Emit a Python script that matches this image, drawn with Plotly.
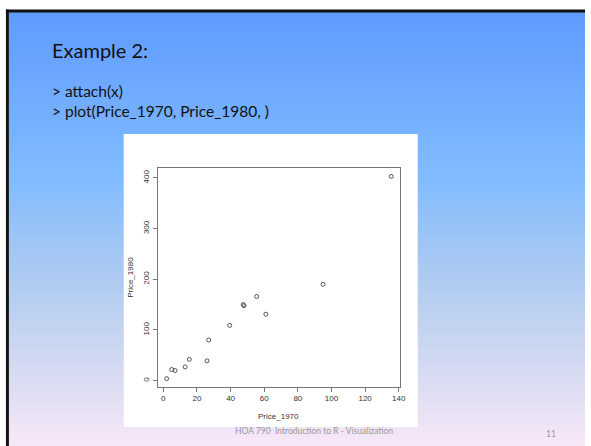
import plotly.graph_objects as go

W, H = 591, 446

# Data
price_1970 = [2, 5, 7, 13, 15.5, 26, 27, 39.5, 47.5, 48, 55.5, 61, 95, 135.5]
price_1980 = [4, 22, 20, 27, 42, 39, 80, 109, 150, 148, 166, 131, 190, 403]
x_ticks = [0, 20, 40, 60, 80, 100, 120, 140]
y_ticks = [0, 100, 200, 300, 400]

title_text = "Example 2:"
code_lines = ["> attach(x)", "> plot(Price_1970, Price_1980, )"]
footer_text = "HOA 790  Introduction to R - Visualization"
page_num = "11"


def px(x):
    return x / W


def py(y):
    return 1 - y / H


# gradient stops (pixel y, rgb)
stops = [
    (12, (94, 155, 255)),
    (180, (130, 188, 255)),
    (260, (166, 200, 242)),
    (330, (196, 212, 240)),
    (390, (222, 222, 243)),
    (446, (249, 231, 248)),
]


def color_at(y):
    for (y0, c0), (y1, c1) in zip(stops[:-1], stops[1:]):
        if y0 <= y <= y1:
            t = (y - y0) / (y1 - y0)
            return "rgb(%d,%d,%d)" % tuple(round(a + (b - a) * t) for a, b in zip(c0, c1))
    return "rgb(%d,%d,%d)" % stops[-1][1]


shapes = []
y = 12
step = 2
while y < H:
    shapes.append(dict(type="rect", xref="paper", yref="paper",
                       x0=px(9), x1=1, y0=py(y + step), y1=py(y),
                       fillcolor=color_at(y + step / 2), line=dict(width=0),
                       layer="below"))
    y += step

# slide border
shapes.append(dict(type="rect", xref="paper", yref="paper", x0=px(6), x1=1,
                   y0=py(12.5), y1=py(9.5), fillcolor="#111", line=dict(width=0), layer="below"))
shapes.append(dict(type="rect", xref="paper", yref="paper", x0=px(6), x1=px(9),
                   y0=0, y1=py(9.5), fillcolor="#111", line=dict(width=0), layer="below"))
# white image box
shapes.append(dict(type="rect", xref="paper", yref="paper", x0=px(125), x1=px(422),
                   y0=py(427), y1=py(134), fillcolor="white", line=dict(width=0), layer="below"))

fx0, fx1, fy0, fy1 = 159.3, 404.3, 168.3, 386.7

fig = go.Figure()
fig.add_trace(go.Scatter(
    x=price_1970, y=price_1980, mode="markers",
    marker=dict(symbol="circle-open", size=4, color="#444", line=dict(width=0.9, color="#444")),
    showlegend=False, hoverinfo="x+y"))

xmin, xmax = min(price_1970), max(price_1970)
ymin, ymax = min(price_1980), max(price_1980)
xr = [xmin - 0.04 * (xmax - xmin), xmax + 0.04 * (xmax - xmin)]
yr = [ymin - 0.04 * (ymax - ymin), ymax + 0.04 * (ymax - ymin)]

axis_font = dict(family="Liberation Sans, Arial, sans-serif", size=8, color="#333")

fig.update_layout(
    width=W, height=H, margin=dict(l=0, r=0, t=0, b=0),
    paper_bgcolor="white", plot_bgcolor="white",
    shapes=shapes,
    xaxis=dict(domain=[px(fx0), px(fx1)], range=xr, tickvals=x_ticks,
               showgrid=False, zeroline=False, showline=True, mirror=True,
               linecolor="#777", linewidth=1, ticks="outside", ticklen=4,
               tickcolor="#777", tickfont=axis_font, fixedrange=True),
    yaxis=dict(domain=[py(fy1), py(fy0)], range=yr, tickvals=y_ticks,
               showgrid=False, zeroline=False, showline=True, mirror=True,
               linecolor="#777", linewidth=1, ticks="outside", ticklen=4,
               tickcolor="#777", tickfont=axis_font, tickangle=-90, fixedrange=True),
    annotations=[
        dict(text=title_text, xref="paper", yref="paper", x=px(51), y=py(50),
             xanchor="left", yanchor="middle", showarrow=False,
             font=dict(family="Lato, sans-serif", size=20, color="#111")),
        dict(text=code_lines[0], xref="paper", yref="paper", x=px(51), y=py(91),
             xanchor="left", yanchor="middle", showarrow=False,
             font=dict(family="Lato, sans-serif", size=15.5, color="#111")),
        dict(text=code_lines[1], xref="paper", yref="paper", x=px(51), y=py(111),
             xanchor="left", yanchor="middle", showarrow=False,
             font=dict(family="Lato, sans-serif", size=15.5, color="#111")),
        dict(text="Price_1970", xref="paper", yref="paper", x=px((fx0 + fx1) / 2), y=py(416.5),
             xanchor="center", yanchor="middle", showarrow=False,
             font=dict(family="Liberation Sans, Arial, sans-serif", size=8, color="#333")),
        dict(text="Price_1980", xref="paper", yref="paper", x=px(131.7), y=py((fy0 + fy1) / 2),
             xanchor="center", yanchor="middle", showarrow=False, textangle=-90,
             font=dict(family="Liberation Sans, Arial, sans-serif", size=8, color="#333")),
        dict(text=footer_text, xref="paper", yref="paper", x=px(317), y=py(431),
             xanchor="center", yanchor="middle", showarrow=False,
             font=dict(family="Lato, sans-serif", size=8.5, color="#999")),
        dict(text=page_num, xref="paper", yref="paper", x=px(557), y=py(434),
             xanchor="center", yanchor="middle", showarrow=False,
             font=dict(family="Lato, sans-serif", size=8.5, color="#999")),
    ],
)

fig.write_html("out.html")
